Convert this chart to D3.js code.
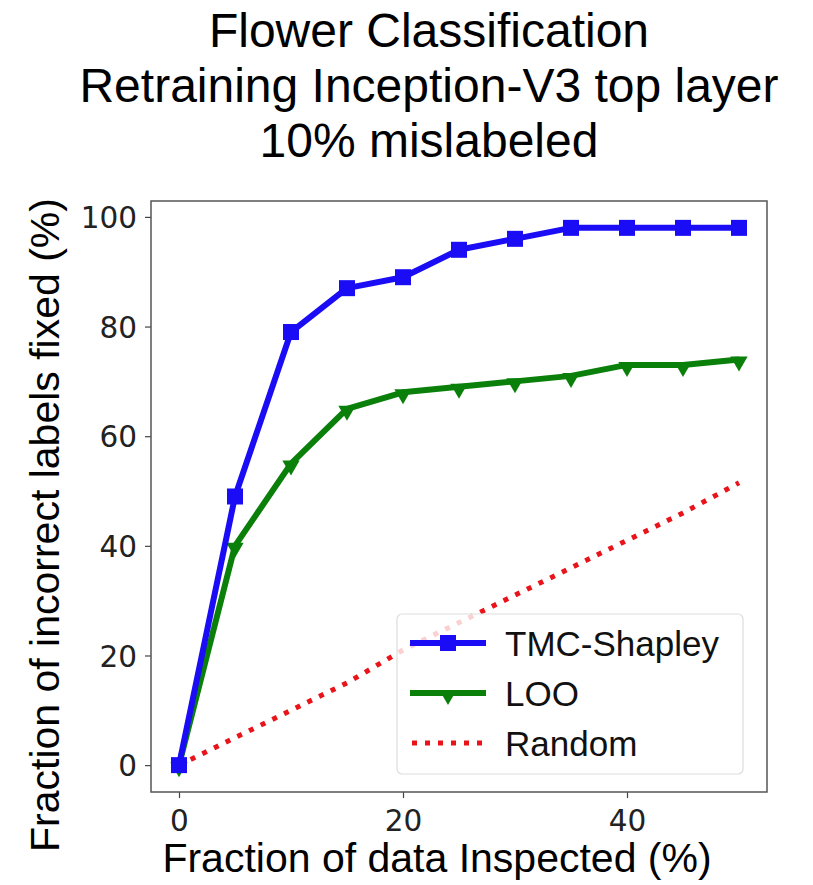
<!DOCTYPE html>
<html><head><meta charset="utf-8">
<script src="https://cdn.jsdelivr.net/npm/d3@7"></script>
<style>body{margin:0;background:#fff}svg{display:block}</style>
</head><body>
<script>
const xValues = [0,5,10,15,20,25,30,35,40,45,50];
const tmcShapley = [0,49,79,87,89,94,96,98,98,98,98];
const loo = [0,40,55,65,68,69,70,71,73,73,74];
const randomVals = [0,5,10,15,21,26,31,36,41,46,51.5];
const xTicks = [0,20,40];
const yTicks = [0,20,40,60,80,100];
const titleLines = ["Flower Classification","Retraining Inception-V3 top layer","10% mislabeled"];
const seriesNames = ["TMC-Shapley","LOO","Random"];

const W=813,H=885;
const svg=d3.select("body").append("svg").attr("width",W).attr("height",H);
const L=151,R=767,T=201,B=792;
const x=d3.scaleLinear().domain([-2.5,52.5]).range([L,R]);
const y=d3.scaleLinear().domain([-4.9,102.9]).range([B,T]);
const sansT="'Liberation Sans', Arial, sans-serif";
const sansD="'DejaVu Sans', sans-serif";

// title
svg.append("g").selectAll("text").data(titleLines).join("text")
  .attr("x",429).attr("y",(d,i)=>47+i*55)
  .attr("text-anchor","middle").attr("font-family",sansT).attr("font-size",48)
  .attr("fill","#000").text(d=>d);

// axes
const xa=svg.append("g").attr("transform",`translate(0,${B})`)
  .call(d3.axisBottom(x).tickValues(xTicks).tickSize(6).tickPadding(5).tickFormat(d3.format("d")));
const ya=svg.append("g").attr("transform",`translate(${L},0)`)
  .call(d3.axisLeft(y).tickValues(yTicks).tickSize(6).tickPadding(8).tickFormat(d3.format("d")));
[xa,ya].forEach(a=>{
  a.select(".domain").remove();
  a.selectAll(".tick line").attr("stroke","#444").attr("stroke-width",1.2);
  a.selectAll(".tick text").attr("font-family",sansD).attr("font-size",29.5).attr("fill","#222");
});
xa.selectAll(".tick text").attr("dy","0.95em");
ya.selectAll(".tick text").attr("dy","0.36em");

// frame
svg.append("rect").attr("x",L).attr("y",T).attr("width",R-L).attr("height",B-T)
  .attr("fill","none").attr("stroke","#555").attr("stroke-width",1.5);

// axis labels
svg.append("text").attr("x",437).attr("y",872).attr("text-anchor","middle")
  .attr("font-family",sansT).attr("font-size",41).attr("fill","#000").text("Fraction of data Inspected (%)");
svg.append("text").attr("transform","translate(59,525) rotate(-90)").attr("text-anchor","middle")
  .attr("font-family",sansT).attr("font-size",41).attr("fill","#000").text("Fraction of incorrect labels fixed (%)");

const line=d3.line().x((d,i)=>x(xValues[i])).y(d=>y(d));
const plot=svg.append("g");

// random
plot.append("path").datum(randomVals).attr("d",line).attr("fill","none")
  .attr("stroke","#e8141a").attr("stroke-width",5).attr("stroke-dasharray","5,8");
// LOO
plot.append("path").datum(loo).attr("d",line).attr("fill","none")
  .attr("stroke","#0a800a").attr("stroke-width",6).attr("stroke-linejoin","round");
const tri=d3.symbol().type(d3.symbolTriangle).size(130);
plot.append("g").selectAll("path").data(loo).join("path")
  .attr("d",tri).attr("fill","#0a800a")
  .attr("transform",(d,i)=>`translate(${x(xValues[i])},${y(d)+2}) rotate(180)`);
// TMC
plot.append("path").datum(tmcShapley).attr("d",line).attr("fill","none")
  .attr("stroke","#1a0cf5").attr("stroke-width",6).attr("stroke-linejoin","round");
plot.append("g").selectAll("rect").data(tmcShapley).join("rect")
  .attr("x",(d,i)=>x(xValues[i])-8).attr("y",d=>y(d)-8).attr("width",16).attr("height",16)
  .attr("fill","#1a0cf5");

// legend
const lg=svg.append("g");
lg.append("rect").attr("x",397).attr("y",614).attr("width",346).attr("height",160).attr("rx",5)
  .attr("fill","#fff").attr("fill-opacity",0.8).attr("stroke","#ddd").attr("stroke-width",1.2);
const rows=[643,693,743];
const colors=["#1a0cf5","#0a800a","#e8141a"];
seriesNames.forEach((n,i)=>{
  const yy=rows[i];
  const ln=lg.append("line").attr("x1",410).attr("x2",486).attr("y1",yy).attr("y2",yy)
    .attr("stroke",colors[i]).attr("stroke-width",i==2?5:6);
  if(i==2) ln.attr("stroke-dasharray","5,8").attr("x1",412);
  if(i==0) lg.append("rect").attr("x",440).attr("y",yy-8).attr("width",16).attr("height",16).attr("fill",colors[0]);
  if(i==1) lg.append("path").attr("d",tri).attr("fill",colors[1]).attr("transform",`translate(448,${yy+2}) rotate(180)`);
  lg.append("text").attr("x",505).attr("y",yy).attr("dy","0.36em").attr("font-family",sansT)
    .attr("font-size",35).attr("fill","#111").text(n);
});
</script>
</body></html>
